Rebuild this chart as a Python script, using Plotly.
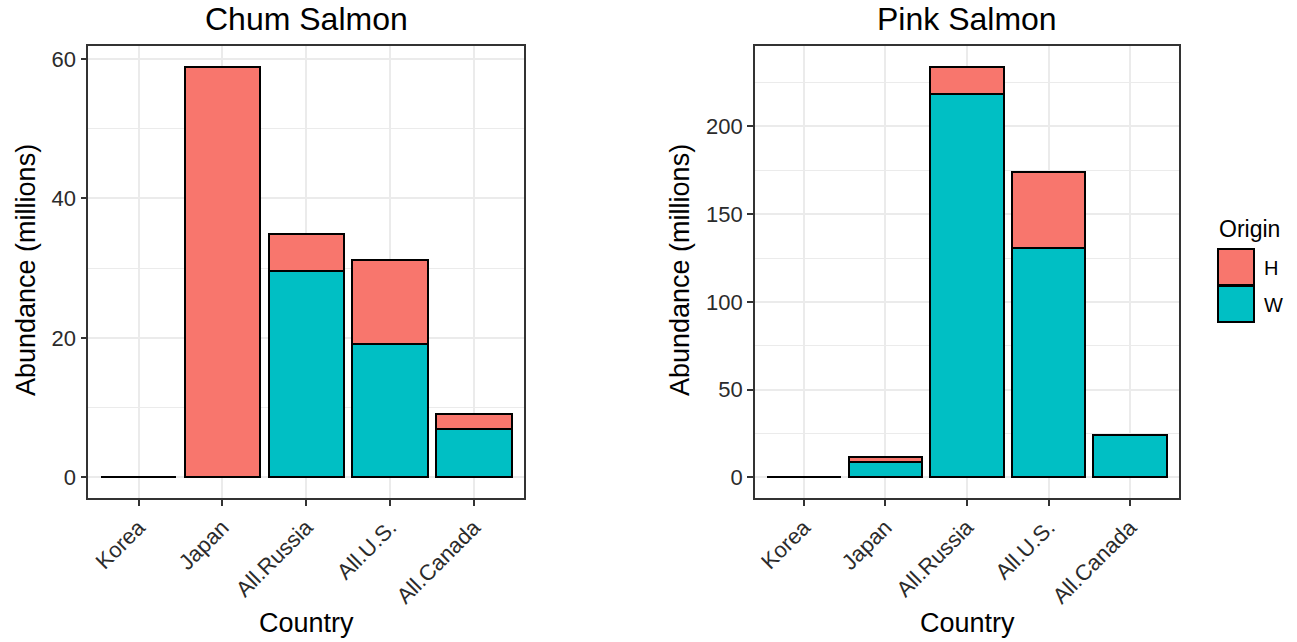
import plotly.graph_objects as go

countries = ["Korea", "Japan", "All.Russia", "All.U.S.", "All.Canada"]
chum_W = [0, 0, 29.6, 19.2, 7.0]
chum_H = [0, 58.9, 5.3, 11.9, 2.1]
pink_W = [0, 8.9, 218.7, 131.0, 24.0]
pink_H = [0, 2.5, 15.4, 43.1, 0.3]
origins = ["H", "W"]
col = {"H": "#F8766D", "W": "#00BFC4"}

W, Hh = 1297, 642
FONT = "Liberation Sans, Arial, sans-serif"
TICKC = "#2b2b2b"

fig = go.Figure()
for xa, ya, wv, hv in [("x", "y", chum_W, chum_H), ("x2", "y2", pink_W, pink_H)]:
    fig.add_trace(go.Bar(x=countries, y=wv, name="W", marker=dict(color=col["W"], line=dict(color="black", width=2)),
                         width=0.9, xaxis=xa, yaxis=ya, showlegend=False))
    fig.add_trace(go.Bar(x=countries, y=hv, name="H", marker=dict(color=col["H"], line=dict(color="black", width=2)),
                         width=0.9, xaxis=xa, yaxis=ya, showlegend=False))

def yr(w, h):
    m = max(a + b for a, b in zip(w, h))
    return [-0.05 * m, 1.05 * m]

ydom = [144 / Hh, 596 / Hh]
common_x = dict(type="category", range=[-0.6, 4.6], tickangle=-45, showgrid=True, gridcolor="#EBEBEB", gridwidth=1.5,
                showline=True, linecolor="#333333", linewidth=1.6, mirror=True, ticks="outside", ticklen=6,
                tickwidth=1.5, tickcolor="#333333", tickfont=dict(family=FONT, size=22, color=TICKC),
                zeroline=False)
common_y = dict(showgrid=True, gridcolor="#EBEBEB", gridwidth=1.5, showline=True, linecolor="#333333", linewidth=1.6,
                mirror=True, ticks="outside", ticklen=6, tickwidth=1.5, tickcolor="#333333",
                tickfont=dict(family=FONT, size=22, color=TICKC), zeroline=False, domain=ydom)

fig.update_layout(
    width=W, height=Hh, margin=dict(l=0, r=0, t=0, b=0), barmode="stack", bargap=0.1,
    plot_bgcolor="white", paper_bgcolor="white",
    xaxis=dict(common_x, domain=[88.3 / W, 524.3 / W], anchor="y"),
    yaxis=dict(common_y, range=yr(chum_W, chum_H), dtick=20, tick0=0,
               minor=dict(showgrid=True, dtick=10, tick0=0, gridcolor="#EBEBEB", gridwidth=0.8), anchor="x"),
    xaxis2=dict(common_x, domain=[755 / W, 1179 / W], anchor="y2"),
    yaxis2=dict(common_y, range=yr(pink_W, pink_H), dtick=50, tick0=0,
                minor=dict(showgrid=True, dtick=25, tick0=0, gridcolor="#EBEBEB", gridwidth=0.8), anchor="x2"),
)

def px(x):
    return x / W

def py(y):
    return (Hh - y) / Hh

ann = []
for txt, cx in [("Chum Salmon", 306.3), ("Pink Salmon", 967)]:
    ann.append(dict(text=txt, x=px(cx), y=py(19), xref="paper", yref="paper", showarrow=False,
                    font=dict(family=FONT, size=32, color="black"), xanchor="center", yanchor="middle"))
for cx in [306.3, 967]:
    ann.append(dict(text="Country", x=px(cx), y=py(623), xref="paper", yref="paper", showarrow=False,
                    font=dict(family=FONT, size=27, color="black"), xanchor="center", yanchor="middle"))
for cx in [26, 680]:
    ann.append(dict(text="Abundance (millions)", x=px(cx), y=py(270), xref="paper", yref="paper", showarrow=False,
                    textangle=-90, font=dict(family=FONT, size=27, color="black"), xanchor="center", yanchor="middle"))
ann.append(dict(text="Origin", x=px(1217), y=py(229), xref="paper", yref="paper", showarrow=False,
                font=dict(family=FONT, size=23, color="black"), xanchor="left", yanchor="middle"))
shapes = []
for i, o in enumerate(origins):
    y0 = 249 + i * 37
    shapes.append(dict(type="rect", xref="paper", yref="paper", x0=px(1218), x1=px(1254), y0=py(y0), y1=py(y0 + 36),
                       fillcolor=col[o], line=dict(color="black", width=2)))
    ann.append(dict(text=o, x=px(1262), y=py(y0 + 19), xref="paper", yref="paper", showarrow=False,
                    font=dict(family=FONT, size=20, color="black"), xanchor="left", yanchor="middle"))

fig.update_layout(annotations=ann, shapes=shapes)
fig.write_html("out.html")
